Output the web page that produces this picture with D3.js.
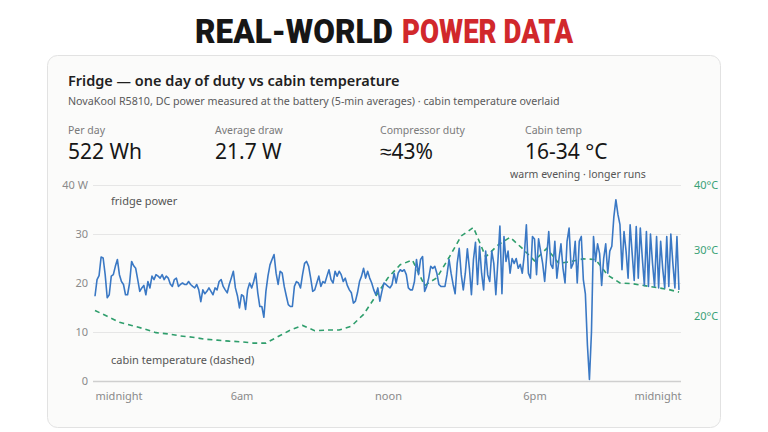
<!DOCTYPE html>
<html>
<head>
<meta charset="utf-8">
<script src="https://cdn.jsdelivr.net/npm/d3@7"></script>
<style>
  body { margin: 0; background: #fff; }
  svg { display: block; font-family: "Segoe UI", "Noto Sans", sans-serif; }
</style>
</head>
<body>
<div id="chart"></div>
<script>
// chart data

var hourTicks = [0, 6, 12, 18, 24];
var hourLabels = ["midnight", "6am", "noon", "6pm", "midnight"];
var powerTicks = [0, 10, 20, 30, 40];
var tempTicks = [20, 30, 40];

var statLabels = ["Per day", "Average draw", "Compressor duty", "Cabin temp"];
var statValues = ["522 Wh", "21.7 W", "\u224843%", "16-34 \u00b0C"];

// 5-min averages, one row per hour
var powerW = [
  17.3, 20.7, 21.5, 25.3, 25.1, 21.7, 17.0, 17.6, 21.4, 21.7, 23.4, 24.8,
  21.7, 20.3, 19.7, 17.6, 17.6, 20.0, 24.4, 23.5, 23.0, 20.7, 18.3, 19.0,
  19.5, 17.6, 20.3, 19.0, 21.4, 20.7, 21.7, 21.4, 21.0, 21.7, 20.7, 21.4,
  21.0, 19.8, 19.3, 20.7, 21.0, 19.3, 19.7, 20.0, 19.7, 19.7, 20.3, 19.7,
  19.3, 19.0, 19.7, 18.6, 16.2, 18.6, 17.8, 18.3, 19.0, 18.3, 17.6, 19.0,
  18.6, 20.3, 20.7, 19.3, 18.6, 18.0, 19.7, 21.0, 22.4, 19.0, 17.4, 14.9,
  17.6, 17.3, 14.6, 18.6, 20.0, 19.0, 20.3, 22.0, 18.0, 15.2, 15.2, 13.0,
  18.3, 21.4, 23.7, 24.8, 25.8, 22.0, 19.7, 22.4, 22.0, 19.3, 17.4, 15.6,
  15.2, 15.2, 19.3, 20.3, 20.0, 19.0, 21.7, 24.0, 24.4, 23.4, 21.0, 18.3,
  18.6, 20.0, 21.4, 19.3, 20.3, 20.0, 21.4, 22.7, 20.7, 20.0, 22.4, 21.4,
  22.4, 21.7, 20.3, 21.0, 19.5, 18.6, 18.0, 15.9, 16.3, 18.0, 20.3, 21.4,
  23.0, 21.0, 22.4, 21.0, 20.0, 18.6, 17.6, 19.0, 16.3, 18.3, 20.0, 19.7,
  19.3, 19.0, 19.7, 22.0, 20.0, 22.0, 22.7, 22.4, 22.7, 21.7, 19.0, 18.6,
  18.6, 20.3, 24.8, 21.7, 24.8, 25.4, 18.3, 19.3, 21.0, 23.4, 23.0, 23.4,
  22.0, 19.7, 19.3, 19.3, 19.3, 21.7, 24.8, 22.0, 19.7, 17.8, 24.0, 27.1,
  21.7, 18.6, 22.0, 27.0, 23.0, 17.6, 24.8, 28.3, 19.7, 27.5, 22.0, 18.6,
  26.5, 21.7, 20.3, 26.5, 24.0, 17.6, 24.4, 31.6, 17.8, 29.5, 24.4, 26.5,
  22.0, 25.0, 24.0, 25.0, 23.0, 23.8, 22.0, 25.8, 31.9, 22.0, 21.0, 29.5,
  29.0, 21.7, 29.0, 26.5, 24.0, 20.3, 25.5, 30.5, 23.8, 23.0, 28.5, 21.0,
  24.8, 28.0, 23.0, 20.0, 28.5, 31.2, 23.0, 24.0, 28.5, 20.0, 28.5, 29.5,
  20.7, 17.8, 7.4, 0.3, 10.0, 29.5, 24.4, 28.0, 26.0, 19.5, 25.0, 28.0,
  22.0, 26.5, 27.5, 33.5, 37.0, 34.0, 31.9, 22.7, 30.5, 26.5, 21.0, 31.9,
  26.0, 20.5, 31.5, 21.0, 31.2, 25.0, 19.5, 30.5, 19.3, 30.0, 24.0, 19.3,
  29.5, 19.0, 28.5, 23.0, 19.0, 29.5, 19.3, 30.0, 24.0, 19.0, 29.5, 18.6
];

// cabin temperature, every 30 min (hours)
var tempHours = [0, 0.5, 1, 1.5, 2, 2.5, 3, 3.5, 4, 4.5, 5, 5.5, 6, 6.5, 7, 7.5,
  8, 8.5, 9, 9.5, 10, 10.5, 11, 11.5, 12, 12.5, 13, 13.5, 14, 14.5, 15, 15.5,
  16, 16.5, 17, 17.5, 18, 18.5, 19, 19.5, 20, 20.5, 21, 21.5, 22, 22.5, 23, 23.5, 23.92];
var tempC = [20.8, 19.9, 19.0, 18.5, 18.0, 17.4, 17.2, 16.9, 16.7, 16.4, 16.25, 16.1,
  16.0, 15.8, 15.8, 16.8, 17.8, 18.5, 17.7, 17.8, 17.8, 18.4, 20.2, 23.0,
  25.8, 27.8, 28.5, 24.6, 25.8, 28.9, 32.2, 33.5, 29.0, 30.8, 32.0, 30.3,
  28.4, 30.3, 28.0, 28.3, 28.7, 28.6, 26.2, 25.0, 24.9, 24.6, 24.3, 24.0, 23.6];

var W = 768, H = 432;
var plotL = 95, plotR = 681, plotT = 185, plotB = 381;

var svg = d3.select("#chart").append("svg")
  .attr("width", W)
  .attr("height", H);

// big heading
svg.append("text")
  .attr("x", 195).attr("y", 43)
  .attr("textLength", 198).attr("lengthAdjust", "spacingAndGlyphs")
  .style("font-family", "Roboto, sans-serif")
  .style("font-weight", 900)
  .style("font-size", "33px")
  .style("fill", "#161616")
  .text("REAL-WORLD");
svg.append("text")
  .attr("x", 402).attr("y", 43)
  .attr("textLength", 171).attr("lengthAdjust", "spacingAndGlyphs")
  .style("font-family", "Roboto, sans-serif")
  .style("font-weight", 900)
  .style("font-size", "33px")
  .style("fill", "#d1282c")
  .text("POWER DATA");

// card
svg.append("rect")
  .attr("x", 47.5).attr("y", 55.5)
  .attr("width", 673).attr("height", 372)
  .attr("rx", 10)
  .style("fill", "#fbfbfa")
  .style("stroke", "#e2e2e2");

svg.append("text")
  .attr("x", 68).attr("y", 86)
  .style("font-size", "14.5px")
  .style("font-weight", 600)
  .style("fill", "#1f1f1f")
  .text("Fridge \u2014 one day of duty vs cabin temperature");
svg.append("text")
  .attr("x", 68).attr("y", 105)
  .style("font-size", "10.7px")
  .style("fill", "#5a5a5a")
  .text("NovaKool R5810, DC power measured at the battery (5-min averages) \u00b7 cabin temperature overlaid");

var statX = [68, 215, 380, 525];
statLabels.forEach(function(d, i) {
  svg.append("text")
    .attr("x", statX[i]).attr("y", 134)
    .style("font-size", "10.5px")
    .style("fill", "#7a7a7a")
    .text(d);
  svg.append("text")
    .attr("x", statX[i]).attr("y", 159)
    .style("font-size", "21px")
    .style("fill", "#161616")
    .text(statValues[i]);
});

// scales
var x = d3.scaleLinear().domain([0, 24]).range([plotL, plotR]);
var yP = d3.scaleLinear().domain([0, 40]).range([plotB, plotT]);
var yT = d3.scaleLinear().domain([10, 40]).range([plotB, plotT]);

// left axis + grid
var gl = svg.append("g")
  .attr("transform", "translate(" + (plotL - 2) + ",0)")
  .call(d3.axisLeft(yP).tickValues(powerTicks).tickSize(-(plotR - plotL + 2)).tickPadding(5)
    .tickFormat(function(d) { return d === 40 ? "40 W" : d; }));
gl.select(".domain").remove();
gl.selectAll(".tick line")
  .style("stroke", function(d) { return d === 0 ? "#cfcfcf" : "#e6e6e6"; })
  .style("stroke-width", function(d) { return d === 0 ? 1.5 : 1; });
gl.selectAll(".tick text")
  .style("font-size", "11px")
  .style("fill", "#8a8a8a")
  .style("font-family", "Segoe UI, Noto Sans, sans-serif");

// right axis
var gr = svg.append("g")
  .attr("transform", "translate(694,0)")
  .call(d3.axisRight(yT).tickValues(tempTicks).tickSize(0).tickPadding(0)
    .tickFormat(function(d) { return d + "\u00b0C"; }));
gr.select(".domain").remove();
gr.selectAll(".tick text")
  .style("font-size", "11px")
  .style("fill", "#3aa176")
  .style("font-family", "Segoe UI, Noto Sans, sans-serif");

// bottom axis
var gb = svg.append("g")
  .attr("transform", "translate(0," + plotB + ")")
  .call(d3.axisBottom(x).tickValues(hourTicks).tickSize(0).tickPadding(11)
    .tickFormat(function(d, i) { return hourLabels[i]; }));
gb.select(".domain").remove();
gb.selectAll(".tick text")
  .style("font-size", "11px")
  .style("fill", "#8a8a8a")
  .style("font-family", "Segoe UI, Noto Sans, sans-serif")
  .attr("text-anchor", function(d, i) { return i === 0 ? "start" : (i === hourTicks.length - 1 ? "end" : "middle"); });

// annotations
svg.append("text")
  .attr("x", 111).attr("y", 205)
  .style("font-size", "11px").style("fill", "#555")
  .text("fridge power");
svg.append("text")
  .attr("x", 111).attr("y", 364)
  .style("font-size", "11px").style("fill", "#555")
  .text("cabin temperature (dashed)");
svg.append("text")
  .attr("x", 578).attr("y", 178)
  .attr("text-anchor", "middle")
  .style("font-size", "10.5px").style("fill", "#555")
  .text("warm evening \u00b7 longer runs");

// temperature line (dashed)
var tempLine = d3.line()
  .x(function(d, i) { return x(tempHours[i]); })
  .y(function(d) { return yT(d); });
svg.append("path")
  .datum(tempC)
  .attr("d", tempLine)
  .style("fill", "none")
  .style("stroke", "#2f9e6c")
  .style("stroke-width", 1.6)
  .style("stroke-dasharray", "5,4");

// power line
var powerLine = d3.line()
  .x(function(d, i) { return x(i * 5 / 60); })
  .y(function(d) { return yP(d); });
svg.append("path")
  .datum(powerW)
  .attr("d", powerLine)
  .style("fill", "none")
  .style("stroke", "#3a78c4")
  .style("stroke-width", 1.6)
  .style("stroke-linejoin", "round");
</script>
</body>
</html>
